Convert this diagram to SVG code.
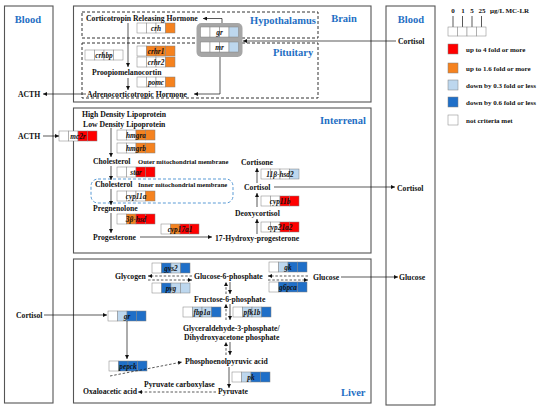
<svg xmlns="http://www.w3.org/2000/svg" width="550" height="410" viewBox="0 0 550 410">
<style>
text{font-family:"Liberation Serif","Times New Roman",serif;font-weight:bold;fill:#111}
.l{font-size:7.7px}
.s{font-size:6.6px}
.lg{font-size:7px}
.t{font-size:10.5px;fill:#1f6fc4}
.gn{font-size:7.3px;font-style:italic;text-anchor:middle}
.c{stroke:#808080;stroke-width:0.5}
.w{fill:#fff}.o{fill:#f5821f}.r{fill:#ff0000}.lb{fill:#bdd7ee}.b{fill:#1f6fc8}
.box{fill:none;stroke:#555;stroke-width:1.1}
.dbox{fill:none;stroke:#333;stroke-width:1;stroke-dasharray:3,2}
.ln{fill:none;stroke:#111;stroke-width:0.7}
.ar{marker-end:url(#a)}
.dl{stroke-dasharray:2.5,1.8}
</style>
<defs>
<marker id="a" viewBox="0 0 6 6" refX="6" refY="3" markerWidth="4" markerHeight="4" orient="auto" markerUnits="userSpaceOnUse"><path d="M0,0 L6,3 L0,6z" fill="#111"/></marker>
</defs>

<!-- compartments -->
<g id="blood-left"><rect class="box" x="4.5" y="6" width="48.5" height="397"/><text class="t" x="28" y="23" text-anchor="middle">Blood</text></g>
<g id="blood-right"><rect class="box" x="386" y="6" width="49" height="399"/><text class="t" x="411" y="23" text-anchor="middle">Blood</text></g>
<g id="brain"><rect class="box" x="73.5" y="6" width="297.5" height="96"/><text class="t" x="344" y="22" text-anchor="middle">Brain</text>
<rect class="dbox" x="82" y="12" width="236" height="26"/><text class="t" x="250" y="23.5">Hypothalamus</text>
<rect class="dbox" x="82" y="43" width="236" height="55"/><text class="t" x="273" y="56">Pituitary</text></g>
<g id="interrenal"><rect class="box" x="73.5" y="108" width="297.5" height="145"/><text class="t" x="320" y="124">Interrenal</text>
<rect x="91" y="179" width="142" height="24" rx="7" fill="none" stroke="#5b9bd5" stroke-width="1" stroke-dasharray="3,2"/></g>
<g id="liver"><rect class="box" x="73.5" y="259" width="297.5" height="144"/><text class="t" x="341" y="396">Liver</text></g>

<!-- legend -->
<g id="legend">
<text class="lg" x="453" y="13" text-anchor="middle">0</text>
<text class="lg" x="463" y="13" text-anchor="middle">1</text>
<text class="lg" x="472" y="13" text-anchor="middle">5</text>
<text class="lg" x="482" y="13" text-anchor="middle">25</text>
<text class="lg" x="490" y="13">μg/L MC-LR</text>
<path class="ln" d="M453,16V27M462.5,16V27M472,16V27M481.5,16V27"/>
<rect class="w c" x="448" y="27" width="9.5" height="9"/><rect class="w c" x="457.5" y="27" width="9.5" height="9"/><rect class="w c" x="467" y="27" width="9.5" height="9"/><rect class="w c" x="476.5" y="27" width="9.5" height="9"/>
<rect class="r c" x="448" y="44" width="10" height="10"/><text class="lg" x="466" y="52">up to 4 fold or more</text>
<rect class="o c" x="448" y="63" width="10" height="10"/><text class="lg" x="466" y="71">up to 1.6 fold or more</text>
<rect class="lb c" x="448" y="80" width="10" height="10"/><text class="lg" x="466" y="88">down by 0.3 fold or less</text>
<rect class="b c" x="448" y="97" width="10" height="10"/><text class="lg" x="466" y="105">down by 0.6 fold or less</text>
<rect class="w c" x="448" y="115" width="10" height="10"/><text class="lg" x="466" y="123">not criteria met</text>
</g>

<!-- receptor complex -->
<g id="receptors"><rect x="196.5" y="23" width="46" height="34" rx="5" fill="#a6a6a6"/></g>

<!-- gene boxes -->
<g id="g-crh" transform="translate(137,23)"><rect class="w c" x="0" width="9.5" height="10"/><rect class="w c" x="9.5" width="9.5" height="10"/><rect class="w c" x="19" width="9.5" height="10"/><rect class="o c" x="28.5" width="9.5" height="10"/><text class="gn" x="19" y="7.6">crh</text></g>
<g id="g-gr" transform="translate(200.5,27)"><rect class="w c" x="0" width="9.5" height="10"/><rect class="w c" x="9.5" width="9.5" height="10"/><rect class="w c" x="19" width="9.5" height="10"/><rect class="lb c" x="28.5" width="9.5" height="10"/><text class="gn" x="19" y="7.6">gr</text></g>
<g id="g-mr" transform="translate(200.5,42)"><rect class="w c" x="0" width="9.5" height="10"/><rect class="w c" x="9.5" width="9.5" height="10"/><rect class="w c" x="19" width="9.5" height="10"/><rect class="lb c" x="28.5" width="9.5" height="10"/><text class="gn" x="19" y="7.6">mr</text></g>
<g id="g-crhbp" transform="translate(85,50)"><rect class="w c" x="0" width="9.5" height="10"/><rect class="w c" x="9.5" width="9.5" height="10"/><rect class="w c" x="19" width="9.5" height="10"/><rect class="w c" x="28.5" width="9.5" height="10"/><text class="gn" x="19" y="7.6">crhbp</text></g>
<g id="g-crhr1" transform="translate(137,46)"><rect class="w c" x="0" width="9.5" height="10"/><rect class="o c" x="9.5" width="9.5" height="10"/><rect class="o c" x="19" width="9.5" height="10"/><rect class="o c" x="28.5" width="9.5" height="10"/><text class="gn" x="19" y="7.6">crhr1</text></g>
<g id="g-crhr2" transform="translate(137,57)"><rect class="w c" x="0" width="9.5" height="10"/><rect class="w c" x="9.5" width="9.5" height="10"/><rect class="w c" x="19" width="9.5" height="10"/><rect class="o c" x="28.5" width="9.5" height="10"/><text class="gn" x="19" y="7.6">crhr2</text></g>
<g id="g-pomc" transform="translate(137,77)"><rect class="w c" x="0" width="9.5" height="10"/><rect class="w c" x="9.5" width="9.5" height="10"/><rect class="w c" x="19" width="9.5" height="10"/><rect class="o c" x="28.5" width="9.5" height="10"/><text class="gn" x="19" y="7.6">pomc</text></g>
<g id="g-mc2r" transform="translate(59,131)"><rect class="w c" x="0" width="9.5" height="10"/><rect class="w c" x="9.5" width="9.5" height="10"/><rect class="r c" x="19" width="9.5" height="10"/><rect class="r c" x="28.5" width="9.5" height="10"/><text class="gn" x="19" y="7.6">mc2r</text></g>
<g id="g-hmgra" transform="translate(117,130)"><rect class="w c" x="0" width="9.5" height="10"/><rect class="w c" x="9.5" width="9.5" height="10"/><rect class="o c" x="19" width="9.5" height="10"/><rect class="o c" x="28.5" width="9.5" height="10"/><text class="gn" x="19" y="7.6">hmgra</text></g>
<g id="g-hmgrb" transform="translate(117,143)"><rect class="w c" x="0" width="9.5" height="10"/><rect class="w c" x="9.5" width="9.5" height="10"/><rect class="o c" x="19" width="9.5" height="10"/><rect class="o c" x="28.5" width="9.5" height="10"/><text class="gn" x="19" y="7.6">hmgrb</text></g>
<g id="g-star" transform="translate(117,167)"><rect class="w c" x="0" width="9.5" height="10"/><rect class="w c" x="9.5" width="9.5" height="10"/><rect class="r c" x="19" width="9.5" height="10"/><rect class="r c" x="28.5" width="9.5" height="10"/><text class="gn" x="19" y="7.6">star</text></g>
<g id="g-cyp11a" transform="translate(117,191)"><rect class="w c" x="0" width="9.5" height="10"/><rect class="w c" x="9.5" width="9.5" height="10"/><rect class="w c" x="19" width="9.5" height="10"/><rect class="o c" x="28.5" width="9.5" height="10"/><text class="gn" x="19" y="7.6">cyp11a</text></g>
<g id="g-3bhsd" transform="translate(117,214)"><rect class="w c" x="0" width="9.5" height="10"/><rect class="o c" x="9.5" width="9.5" height="10"/><rect class="r c" x="19" width="9.5" height="10"/><rect class="r c" x="28.5" width="9.5" height="10"/><text class="gn" x="19" y="7.6">3β-hsd</text></g>
<g id="g-cyp17a1" transform="translate(161,224)"><rect class="w c" x="0" width="9.5" height="10"/><rect class="o c" x="9.5" width="9.5" height="10"/><rect class="r c" x="19" width="9.5" height="10"/><rect class="r c" x="28.5" width="9.5" height="10"/><text class="gn" x="19" y="7.6">cyp17a1</text></g>
<g id="g-11bhsd2" transform="translate(261,169)"><rect class="w c" x="0" width="9.5" height="10"/><rect class="w c" x="9.5" width="9.5" height="10"/><rect class="w c" x="19" width="9.5" height="10"/><rect class="lb c" x="28.5" width="9.5" height="10"/><text class="gn" x="19" y="7.6">11β-hsd2</text></g>
<g id="g-cyp11b" transform="translate(261,196)"><rect class="w c" x="0" width="9.5" height="10"/><rect class="w c" x="9.5" width="9.5" height="10"/><rect class="r c" x="19" width="9.5" height="10"/><rect class="r c" x="28.5" width="9.5" height="10"/><text class="gn" x="19" y="7.6">cyp11b</text></g>
<g id="g-cyp21a2" transform="translate(261,222)"><rect class="w c" x="0" width="9.5" height="10"/><rect class="w c" x="9.5" width="9.5" height="10"/><rect class="r c" x="19" width="9.5" height="10"/><rect class="r c" x="28.5" width="9.5" height="10"/><text class="gn" x="19" y="7.6">cyp21a2</text></g>
<g id="g-gys2" transform="translate(152,263)"><rect class="w c" x="0" width="9.5" height="10"/><rect class="b c" x="9.5" width="9.5" height="10"/><rect class="lb c" x="19" width="9.5" height="10"/><rect class="b c" x="28.5" width="9.5" height="10"/><text class="gn" x="19" y="7.6">gys2</text></g>
<g id="g-pyg" transform="translate(152,283)"><rect class="w c" x="0" width="9.5" height="10"/><rect class="b c" x="9.5" width="9.5" height="10"/><rect class="lb c" x="19" width="9.5" height="10"/><rect class="lb c" x="28.5" width="9.5" height="10"/><text class="gn" x="19" y="7.6">pyg</text></g>
<g id="g-gk" transform="translate(269,262)"><rect class="w c" x="0" width="9.5" height="10"/><rect class="lb c" x="9.5" width="9.5" height="10"/><rect class="b c" x="19" width="9.5" height="10"/><rect class="b c" x="28.5" width="9.5" height="10"/><text class="gn" x="19" y="7.6">gk</text></g>
<g id="g-g6pca" transform="translate(269,282)"><rect class="w c" x="0" width="9.5" height="10"/><rect class="b c" x="9.5" width="9.5" height="10"/><rect class="b c" x="19" width="9.5" height="10"/><rect class="b c" x="28.5" width="9.5" height="10"/><text class="gn" x="19" y="7.6">g6pca</text></g>
<g id="g-fbp1a" transform="translate(183,307)"><rect class="w c" x="0" width="9.5" height="10"/><rect class="lb c" x="9.5" width="9.5" height="10"/><rect class="lb c" x="19" width="9.5" height="10"/><rect class="b c" x="28.5" width="9.5" height="10"/><text class="gn" x="19" y="7.6">fbp1a</text></g>
<g id="g-pfk1b" transform="translate(233,307)"><rect class="w c" x="0" width="9.5" height="10"/><rect class="lb c" x="9.5" width="9.5" height="10"/><rect class="lb c" x="19" width="9.5" height="10"/><rect class="b c" x="28.5" width="9.5" height="10"/><text class="gn" x="19" y="7.6">pfk1b</text></g>
<g id="g-gr-liver" transform="translate(108,311)"><rect class="w c" x="0" width="9.5" height="10"/><rect class="lb c" x="9.5" width="9.5" height="10"/><rect class="b c" x="19" width="9.5" height="10"/><rect class="b c" x="28.5" width="9.5" height="10"/><text class="gn" x="19" y="7.6">gr</text></g>
<g id="g-pepck" transform="translate(109,361)"><rect class="w c" x="0" width="9.5" height="10"/><rect class="b c" x="9.5" width="9.5" height="10"/><rect class="b c" x="19" width="9.5" height="10"/><rect class="b c" x="28.5" width="9.5" height="10"/><text class="gn" x="19" y="7.6">pepck</text></g>
<g id="g-pk" transform="translate(232,372)"><rect class="w c" x="0" width="9.5" height="10"/><rect class="lb c" x="9.5" width="9.5" height="10"/><rect class="b c" x="19" width="9.5" height="10"/><rect class="b c" x="28.5" width="9.5" height="10"/><text class="gn" x="19" y="7.6">pk</text></g>

<!-- metabolite / hormone labels -->
<g id="labels">
<text class="l" x="86" y="21">Corticotropin Releasing Hormone</text>
<text class="l" x="92" y="75">Proopiomelanocortin</text>
<text class="l" x="87" y="97">Adrenocorticotropic Hormone</text>
<text class="l" x="18" y="97">ACTH</text>
<text class="l" x="398" y="44">Cortisol</text>
<text class="l" x="82" y="117">High Density Lipoprotein</text>
<text class="l" x="83" y="127">Low Density Lipoprotein</text>
<text class="l" x="18" y="139">ACTH</text>
<text class="l" x="93" y="164">Cholesterol</text><text class="s" x="138" y="164">Outer mitochondrial membrane</text>
<text class="l" x="95" y="187">Cholesterol</text><text class="s" x="138" y="187">Inner mitochondrial membrane</text>
<text class="l" x="93" y="211">Pregnenolone</text>
<text class="l" x="93" y="240">Progesterone</text>
<text class="l" x="215" y="241">17-Hydroxy-progesterone</text>
<text class="l" x="241" y="165">Cortisone</text>
<text class="l" x="244" y="190">Cortisol</text>
<text class="l" x="235" y="216">Deoxycortisol</text>
<text class="l" x="397" y="191">Cortisol</text>
<text class="l" x="115" y="279">Glycogen</text>
<text class="l" x="194" y="279">Glucose-6-phosphate</text>
<text class="l" x="313" y="280">Glucose</text>
<text class="l" x="399" y="280">Glucose</text>
<text class="l" x="194" y="302">Fructose-6-phosphate</text>
<text class="l" x="183" y="331">Glyceraldehyde-3-phosphate/</text>
<text class="l" x="184" y="340">Dihydroxyacetone phosphate</text>
<text class="l" x="185" y="364">Phosphoenolpyruvic acid</text>
<text class="l" x="16" y="318">Cortisol</text>
<text class="l" x="144" y="387">Pyruvate carboxylase</text>
<text class="l" x="83" y="394">Oxaloacetic acid</text>
<text class="l" x="218" y="394">Pyruvate</text>
</g>

<!-- connectors -->
<g id="connectors">
<path class="ln ar" d="M222,23V18.5H203"/>
<path class="ln ar" d="M220,57V94H194"/>
<path class="ln ar" d="M396,41H243"/>
<path class="ln ar" d="M128,23V67"/>
<path class="ln ar" d="M128,78V90"/>
<path class="ln ar" d="M86,94H43"/>
<path class="ln ar" d="M43,136H59"/>
<path class="ln ar" d="M111,128V157"/>
<path class="ln ar" d="M111,166V180"/>
<path class="ln ar" d="M111,189V205"/>
<path class="ln ar" d="M111,213V233"/>
<path class="ln ar" d="M140,237H212"/>
<path class="ln ar" d="M257,234V219"/>
<path class="ln ar" d="M257,207V193"/>
<path class="ln ar" d="M257,183V168"/>
<path class="ln ar" d="M274,187H395"/>
<path class="ln ar dl" d="M192,276H148"/>
<path class="ln ar dl" d="M148,280H192"/>
<path class="ln ar dl" d="M308,276H268"/>
<path class="ln ar dl" d="M268,280H308"/>
<path class="ln ar" d="M341,277H398"/>
<path class="ln ar dl" d="M226,294V282"/>
<path class="ln ar" d="M230,282V294"/>
<path class="ln ar dl" d="M226,320V304"/>
<path class="ln ar" d="M230,304V320"/>
<path class="ln ar dl" d="M226,355V342"/>
<path class="ln ar" d="M230,342V355"/>
<path class="ln ar" d="M229,367V388"/>
<path class="ln ar dl" d="M216,392H138"/>
<path class="ln ar dl" d="M110,376L182,362"/>
<path class="ln ar" d="M44,315H107"/>
<path class="ln ar" d="M127,321V359"/>
</g>
</svg>
